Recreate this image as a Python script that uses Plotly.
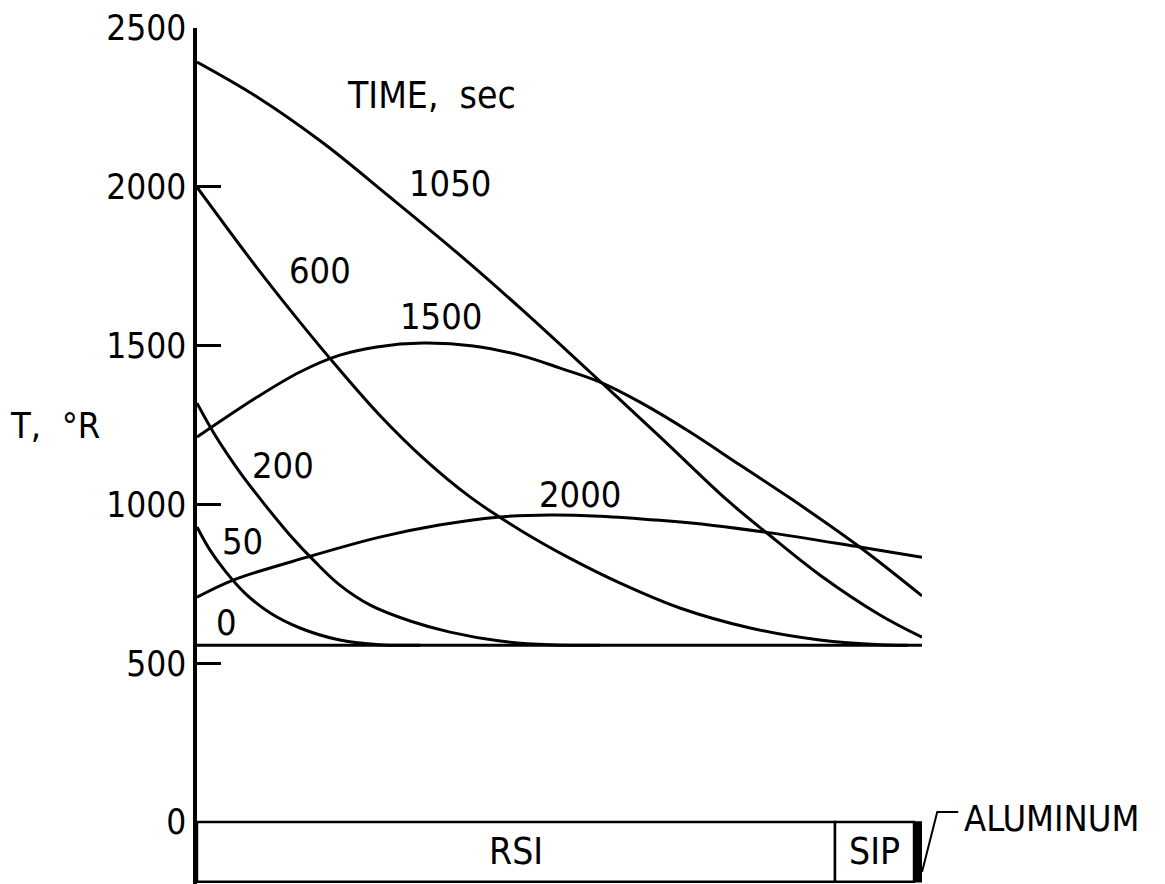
import plotly.graph_objects as go

# Normalized depth through the insulation stack (0 = outer RSI surface, 1 = aluminum)
FONT = "Liberation Sans Narrow, DejaVu Sans Condensed, Arial Narrow, sans-serif"

times = ["0", "50", "200", "600", "1050", "1500", "2000"]

x_0 = [0.0, 1.0]
t_0 = [557, 557]

x_50 = [0.0, 0.018, 0.039, 0.066, 0.101, 0.142, 0.197, 0.252, 0.308]
t_50 = [929, 856, 790, 721, 658, 611, 573, 558, 557]

x_200 = [0.0, 0.025, 0.059, 0.094, 0.128, 0.163, 0.197, 0.239, 0.294, 0.349, 0.418, 0.487, 0.556]
t_200 = [1319, 1218, 1102, 998, 904, 819, 746, 683, 633, 598, 570, 558, 557]

x_600 = [0.0, 0.083, 0.142, 0.197, 0.252, 0.312, 0.377, 0.446, 0.514, 0.583, 0.666, 0.763, 0.859, 0.942, 0.98]
t_600 = [1999, 1744, 1574, 1423, 1281, 1146, 1023, 919, 831, 753, 674, 611, 573, 558, 557]

x_1050 = [0.0, 0.083, 0.174, 0.266, 0.359, 0.446, 0.542, 0.639, 0.731, 0.786, 0.859, 0.942, 1.0]
t_1050 = [2393, 2283, 2138, 1968, 1792, 1618, 1417, 1212, 1014, 910, 778, 652, 582]

x_1500 = [0.0, 0.083, 0.142, 0.197, 0.248, 0.312, 0.381, 0.450, 0.501, 0.556, 0.611, 0.680, 0.749, 0.818, 0.914, 1.0]
t_1500 = [1212, 1338, 1417, 1470, 1496, 1508, 1499, 1467, 1429, 1385, 1322, 1228, 1124, 1020, 866, 712]

x_2000 = [0.0, 0.050, 0.152, 0.252, 0.334, 0.414, 0.487, 0.556, 0.638, 0.712, 0.786, 0.914, 1.0]
t_2000 = [708, 762, 834, 897, 935, 960, 967, 963, 950, 934, 912, 866, 834]

curves = [(x_0, t_0), (x_50, t_50), (x_200, t_200), (x_600, t_600),
          (x_1050, t_1050), (x_1500, t_1500), (x_2000, t_2000)]

# curve label positions (x, T)
label_x = [0.040, 0.063, 0.119, 0.170, 0.349, 0.337, 0.528]
label_t = [627, 882, 1124, 1738, 2012, 1593, 1030]

# layer boundaries (normalized depth)
layers = ["RSI", "SIP", "ALUMINUM"]
layer_edges = [0.0, 0.880, 0.989, 1.0]
layer_bottom = -188

yticks = [0, 500, 1000, 1500, 2000, 2500]

fig = go.Figure()
for (xs, ts), name in zip(curves, times):
    fig.add_trace(go.Scatter(x=xs, y=ts, mode="lines", name=name,
                             line=dict(color="black", width=3, shape="spline", smoothing=1.0),
                             showlegend=False, hoverinfo="skip"))

for lx, lt, name in zip(label_x, label_t, times):
    fig.add_annotation(x=lx, y=lt, text=name, showarrow=False,
                       xanchor="center", yanchor="middle",
                       font=dict(family=FONT, size=36, color="black"))

# title of curve family
fig.add_annotation(x=0.324, y=2286, text="TIME,  sec", showarrow=False,
                   xanchor="center", yanchor="middle",
                   font=dict(family=FONT, size=37, color="black"))

# layer boxes
fig.add_shape(type="rect", x0=layer_edges[0], x1=layer_edges[1], y0=layer_bottom, y1=0,
              line=dict(color="black", width=2.5), fillcolor="white")
fig.add_shape(type="rect", x0=layer_edges[1], x1=layer_edges[2], y0=layer_bottom, y1=0,
              line=dict(color="black", width=2.5), fillcolor="white")
fig.add_shape(type="rect", x0=layer_edges[2], x1=layer_edges[3], y0=layer_bottom, y1=0,
              line=dict(color="black", width=1.5), fillcolor="black")
fig.add_annotation(x=(layer_edges[0] + layer_edges[1]) / 2, y=layer_bottom / 2, text=layers[0],
                   showarrow=False, xanchor="center", yanchor="middle",
                   font=dict(family=FONT, size=37, color="black"))
fig.add_annotation(x=(layer_edges[1] + layer_edges[2]) / 2, y=layer_bottom / 2, text=layers[1],
                   showarrow=False, xanchor="center", yanchor="middle",
                   font=dict(family=FONT, size=37, color="black"))

# aluminum leader and label
fig.add_shape(type="path", xref="paper", yref="paper",
              path="M 1.0 0.014 L 1.021 0.084 L 1.050 0.084",
              line=dict(color="black", width=2))
fig.add_annotation(xref="paper", yref="paper", x=1.055, y=0.077, text=layers[2],
                   xanchor="left", yanchor="middle", showarrow=False,
                   font=dict(family=FONT, size=36, color="black"))

# y-axis title
fig.add_annotation(xref="paper", yref="paper", x=-0.196, y=0.536, text="T,  °R",
                   xanchor="center", yanchor="middle",
                   showarrow=False, font=dict(family=FONT, size=36, color="black"))

fig.update_layout(
    width=1157, height=876,
    margin=dict(l=189, r=243, t=20, b=0),
    paper_bgcolor="white", plot_bgcolor="white",
    xaxis=dict(range=[0, 1.0], visible=False, fixedrange=True),
    yaxis=dict(range=[-195, 2500], tickvals=yticks, ticktext=[str(v) for v in yticks],
               showgrid=False, zeroline=False, showline=True, linecolor="black", linewidth=3.5,
               ticks="inside", ticklen=24, tickwidth=2.5, tickcolor="black",
               tickfont=dict(family=FONT, size=35, color="black"), fixedrange=True),
)

fig.write_html("out.html")
